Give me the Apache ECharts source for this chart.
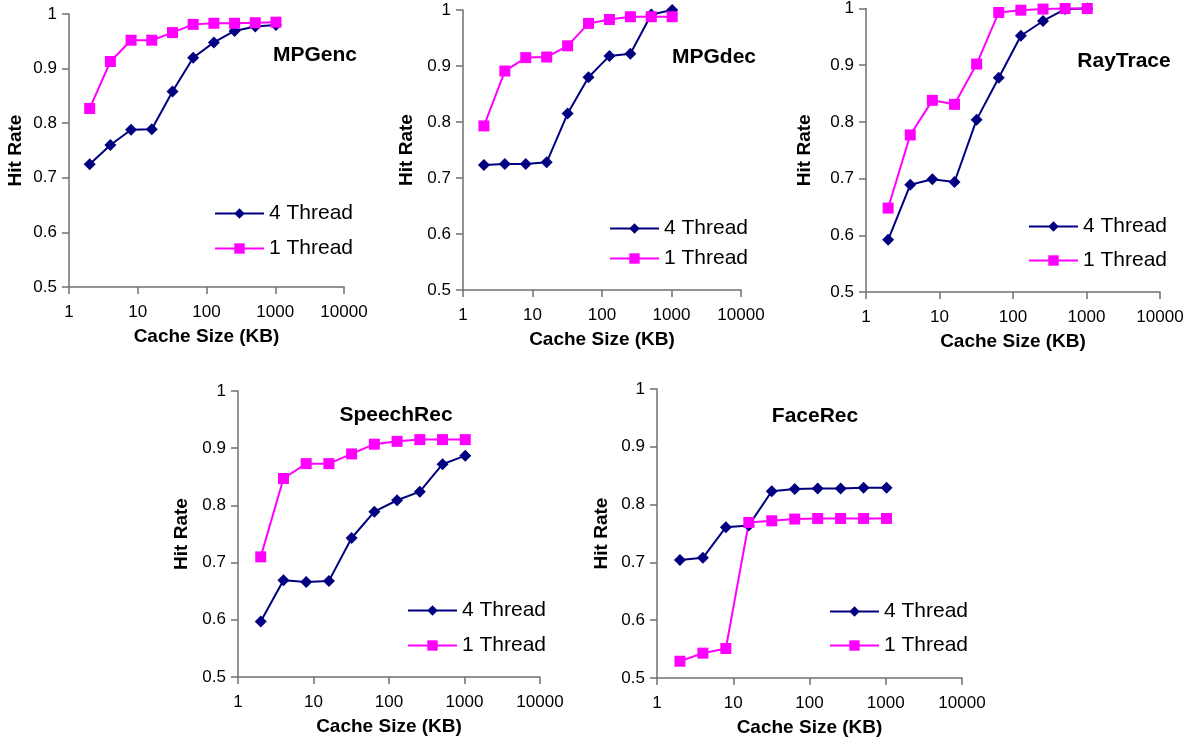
<!DOCTYPE html>
<html>
<head>
<meta charset="utf-8">
<title>Hit rate vs cache size</title>
<script src="https://cdn.jsdelivr.net/npm/echarts@6/dist/echarts.min.js"></script>
<style>
    html, body { margin: 0; padding: 0; background: #fff; }
    #chart { width: 1192px; height: 742px; }
</style>
</head>
<body>
<div id="chart"></div>
<script>
// cache sizes (KB) measured
const cacheSizes = [2, 4, 8, 16, 32, 64, 128, 256, 512, 1024];
const xTickLabels = ['1', '10', '100', '1000', '10000'];
const yTickLabels = ['0.5', '0.6', '0.7', '0.8', '0.9', '1'];
const seriesNames = ['4 Thread', '1 Thread'];
const panelNames = ['MPGenc', 'MPGdec', 'RayTrace', 'SpeechRec', 'FaceRec'];

// hit rates
const mpgenc4 = [0.725, 0.760, 0.788, 0.789, 0.858, 0.920, 0.948, 0.969, 0.977, 0.980];
const mpgenc1 = [0.827, 0.913, 0.952, 0.952, 0.966, 0.981, 0.983, 0.983, 0.984, 0.985];
const mpgdec4 = [0.723, 0.725, 0.725, 0.728, 0.815, 0.880, 0.918, 0.922, 0.992, 1.000];
const mpgdec1 = [0.793, 0.891, 0.915, 0.916, 0.936, 0.976, 0.983, 0.988, 0.988, 0.988];
const raytrace4 = [0.592, 0.689, 0.699, 0.694, 0.804, 0.878, 0.952, 0.978, 0.999, 1.000];
const raytrace1 = [0.648, 0.777, 0.838, 0.831, 0.902, 0.993, 0.997, 0.999, 1.000, 1.000];
const speech4 = [0.597, 0.669, 0.666, 0.668, 0.743, 0.789, 0.809, 0.824, 0.872, 0.887];
const speech1 = [0.710, 0.847, 0.873, 0.873, 0.890, 0.907, 0.912, 0.915, 0.915, 0.915];
const face4 = [0.704, 0.708, 0.761, 0.764, 0.823, 0.827, 0.828, 0.828, 0.829, 0.829];
const face1 = [0.529, 0.543, 0.551, 0.769, 0.772, 0.775, 0.776, 0.776, 0.776, 0.776];

const panelData = [
    [mpgenc4, mpgenc1],
    [mpgdec4, mpgdec1],
    [raytrace4, raytrace1],
    [speech4, speech1],
    [face4, face1]
];

// layout of each small chart (pixels)
const layout = [
    { left: 69, top: 14, width: 275, height: 273, title: [315, 56], legend: [214, 214, 249], nameGap: 44 },
    { left: 463, top: 10, width: 278, height: 280, title: [714, 58], legend: [609, 229, 259], nameGap: 47 },
    { left: 866, top: 8, width: 294, height: 284, title: [1124, 62], legend: [1028, 227, 261], nameGap: 52 },
    { left: 238, top: 391, width: 302, height: 286, title: [396, 416], legend: [407, 611, 646], nameGap: 47 },
    { left: 657, top: 389, width: 305, height: 289, title: [815, 417], legend: [829, 612, 646], nameGap: 46 }
];

const FONT = '"Liberation Sans", Arial, sans-serif';
const colors = ['#000080', '#ff00ff'];
const symbols = ['diamond', 'rect'];
const symbolSizes = [12, 11];
const axisGray = '#707070';

const grid = [], xAxis = [], yAxis = [], series = [], title = [], legend = [];

layout.forEach((p, i) => {
    grid.push({ left: p.left, top: p.top, width: p.width, height: p.height, containLabel: false });

    xAxis.push({
        gridIndex: i,
        type: 'log',
        logBase: 10,
        min: 1,
        max: 10000,
        splitNumber: 4,
        name: 'Cache Size (KB)',
        nameLocation: 'middle',
        nameGap: 40,
        nameTextStyle: { fontFamily: FONT, fontWeight: 'bold', fontSize: 19, color: '#000' },
        axisLine: { lineStyle: { color: axisGray, width: 1.5 } },
        axisTick: { length: 7, lineStyle: { color: axisGray, width: 1.5 } },
        minorTick: { show: false },
        splitLine: { show: false },
        axisLabel: {
            margin: 17,
            fontFamily: FONT,
            fontSize: 17,
            color: '#000',
            showMinLabel: true,
            showMaxLabel: true,
            formatter: v => xTickLabels[Math.round(Math.log10(v))]
        }
    });

    yAxis.push({
        gridIndex: i,
        type: 'value',
        min: 0.5,
        max: 1,
        interval: 0.1,
        name: 'Hit Rate',
        nameLocation: 'middle',
        nameGap: p.nameGap,
        nameTextStyle: { fontFamily: FONT, fontWeight: 'bold', fontSize: 19, color: '#000' },
        axisLine: { show: true, lineStyle: { color: axisGray, width: 1.5 } },
        axisTick: { show: true, length: 7, lineStyle: { color: axisGray, width: 1.5 } },
        splitLine: { show: false },
        axisLabel: {
            margin: 12,
            fontFamily: FONT,
            fontSize: 17,
            color: '#000',
            formatter: v => yTickLabels[Math.round((v - 0.5) * 10)]
        }
    });

    title.push({
        text: panelNames[i],
        left: p.title[0],
        top: p.title[1] - 11,
        textAlign: 'center',
        padding: 0,
        textStyle: { fontFamily: FONT, fontWeight: 'bold', fontSize: 21, color: '#000' }
    });

    seriesNames.forEach((name, k) => {
        series.push({
            name: name,
            type: 'line',
            xAxisIndex: i,
            yAxisIndex: i,
            clip: false,
            symbol: symbols[k],
            symbolSize: symbolSizes[k],
            showAllSymbol: true,
            color: colors[k],
            lineStyle: { color: colors[k], width: 2 },
            itemStyle: { color: colors[k] },
            data: cacheSizes.map((c, j) => [c, panelData[i][k][j]]),
            animation: false
        });

        legend.push({
            data: [name],
            left: p.legend[0],
            top: p.legend[k + 1] - 11,
            padding: 0,
            itemWidth: 49,
            itemHeight: 13,
            selectedMode: false,
            textStyle: { fontFamily: FONT, fontSize: 21, color: '#000' }
        });
    });
});

const chart = echarts.init(document.getElementById('chart'));
chart.setOption({
    backgroundColor: '#fff',
    animation: false,
    title: title,
    legend: legend,
    grid: grid,
    xAxis: xAxis,
    yAxis: yAxis,
    series: series
});
</script>
</body>
</html>
